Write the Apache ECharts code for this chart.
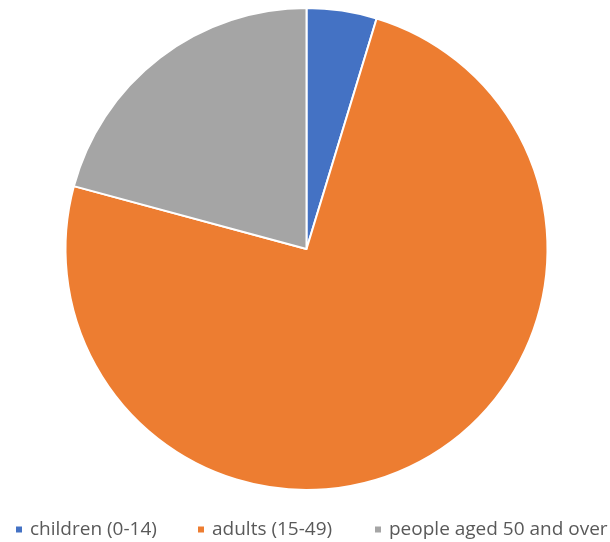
<!DOCTYPE html>
<html><head><meta charset="utf-8">
<script src="https://cdn.jsdelivr.net/npm/echarts@6/dist/echarts.min.js"></script>
<style>html,body{margin:0;padding:0;background:#fff}#c{width:610px;height:542px}</style>
</head><body><div id="c"></div>
<script>
const categories = ["children (0-14)", "adults (15-49)", "people aged 50 and over"];
const values = [4.7, 74.5, 20.8];
const colors = ["#4472C4", "#ED7D31", "#A5A5A5"];
const legendLeft = [14, 196, 373];

const chart = echarts.init(document.getElementById('c'));
chart.setOption({
  animation: false,
  color: colors,
  legend: categories.map((n, i) => ({
    data: [n],
    left: legendLeft[i],
    top: 520,
    padding: 0,
    icon: 'rect',
    itemWidth: 8,
    itemHeight: 8,
    selectedMode: false,
    textStyle: {color: '#595959', fontSize: 19, fontFamily: 'Open Sans', padding: [0, 0, 0, 2]}
  })),
  series: [{
    type: 'pie',
    center: [306.5, 249],
    radius: 241,
    startAngle: 90,
    clockwise: true,
    label: {show: false},
    labelLine: {show: false},
    itemStyle: {borderColor: '#fff', borderWidth: 2},
    data: categories.map((n, i) => ({name: n, value: values[i]}))
  }]
});
</script></body></html>
